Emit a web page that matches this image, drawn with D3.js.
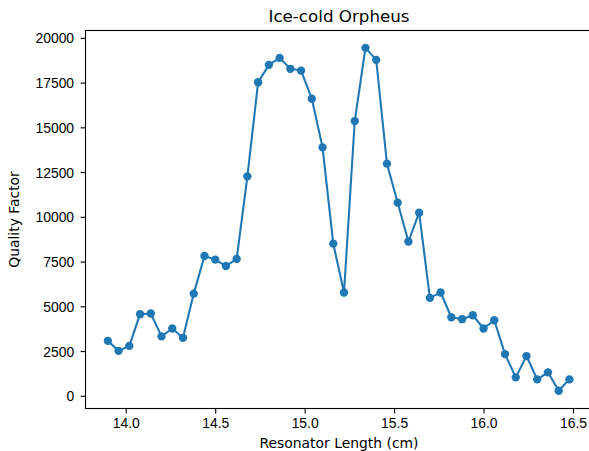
<!DOCTYPE html>
<html>
<head>
<meta charset="utf-8">
<script src="https://cdn.jsdelivr.net/npm/d3@7"></script>
<style>
  html, body { margin: 0; padding: 0; background: #fff; }
  svg { display: block; font-family: "DejaVu Sans", sans-serif; }
</style>
</head>
<body>
<svg id="chart" width="589" height="451"></svg>
<script>
// Resonator lengths (cm), sampled every 0.06 cm
const lengths = [
  13.90, 13.96, 14.02, 14.08, 14.14, 14.20, 14.26, 14.32, 14.38, 14.44,
  14.50, 14.56, 14.62, 14.68, 14.74, 14.80, 14.86, 14.92, 14.98, 15.04,
  15.10, 15.16, 15.22, 15.28, 15.34, 15.40, 15.46, 15.52, 15.58, 15.64,
  15.70, 15.76, 15.82, 15.88, 15.94, 16.00, 16.06, 16.12, 16.18, 16.24,
  16.30, 16.36, 16.42, 16.48
];

// Measured quality factor at each length
const qualityFactor = [
  3070, 2510, 2790, 4560, 4600, 3320, 3760, 3240, 5710, 7810,
  7610, 7250, 7650, 12260, 17520, 18490, 18880, 18270, 18170, 16600,
  13880, 8500, 5770, 15350, 19440, 18770, 12970, 10790, 8620, 10230,
  5470, 5770, 4390, 4280, 4500, 3760, 4220, 2330, 1030, 2220,
  920, 1310, 280, 920
];

const xTicks = [14.0, 14.5, 15.0, 15.5, 16.0, 16.5];
const yTicks = [0, 2500, 5000, 7500, 10000, 12500, 15000, 17500, 20000];

const title = "Ice-cold Orpheus";
const xLabel = "Resonator Length (cm)";
const yLabel = "Quality Factor";

const svg = d3.select("#chart");

// Plot area (right edge extends just past the canvas)
const plot = { left: 85.5, right: 592.5, top: 30.5, bottom: 408.5 };

const x = d3.scaleLinear().domain([13.775, 16.609]).range([plot.left, plot.right]);
const y = d3.scaleLinear().domain([-710, 20410]).range([plot.bottom, plot.top]);

const blue = "#1f77b4";
const ink = "#000";
const tickFont = 13.9;

// Bottom axis
const xAxis = svg.append("g")
  .attr("transform", `translate(0,${plot.bottom})`)
  .call(d3.axisBottom(x).tickValues(xTicks).tickFormat(d3.format(".1f"))
        .tickSize(4.9).tickPadding(4.2).tickSizeOuter(0));
xAxis.select(".domain").remove();
xAxis.selectAll(".tick line").attr("stroke", ink).attr("stroke-width", 1.1);
xAxis.selectAll(".tick text").attr("fill", ink).style("font-size", tickFont + "px")
  .attr("dy", "0.72em");

// Left axis
const yAxis = svg.append("g")
  .attr("transform", `translate(${plot.left},0)`)
  .call(d3.axisLeft(y).tickValues(yTicks).tickFormat(d3.format("d"))
        .tickSize(4.9).tickPadding(6.5).tickSizeOuter(0));
yAxis.select(".domain").remove();
yAxis.selectAll(".tick line").attr("stroke", ink).attr("stroke-width", 1.1);
yAxis.selectAll(".tick text").attr("fill", ink).style("font-size", tickFont + "px")
  .attr("dy", "0.36em");

// Series line and markers
const line = d3.line().x((d, i) => x(lengths[i])).y(d => y(d));
svg.append("path")
  .datum(qualityFactor)
  .attr("d", line)
  .attr("fill", "none")
  .attr("stroke", blue)
  .attr("stroke-width", 2.08)
  .attr("stroke-linejoin", "round")
  .attr("stroke-linecap", "square");

svg.append("g").selectAll("circle")
  .data(qualityFactor)
  .join("circle")
  .attr("cx", (d, i) => x(lengths[i]))
  .attr("cy", d => y(d))
  .attr("r", 4.17)
  .attr("fill", blue);

// Spines
svg.append("rect")
  .attr("x", plot.left).attr("y", plot.top)
  .attr("width", plot.right - plot.left).attr("height", plot.bottom - plot.top)
  .attr("fill", "none").attr("stroke", ink).attr("stroke-width", 1.1);

// Title and axis labels
const midX = (plot.left + plot.right) / 2;
svg.append("text")
  .attr("x", midX).attr("y", 21.8)
  .attr("text-anchor", "middle")
  .style("font-size", "16.7px").attr("fill", ink)
  .text(title);

svg.append("text")
  .attr("x", midX).attr("y", 447.8)
  .attr("text-anchor", "middle")
  .style("font-size", tickFont + "px").attr("fill", ink)
  .text(xLabel);

svg.append("text")
  .attr("transform", `translate(18.8,${(plot.top + plot.bottom) / 2}) rotate(-90)`)
  .attr("text-anchor", "middle")
  .style("font-size", tickFont + "px").attr("fill", ink)
  .text(yLabel);
</script>
</body>
</html>
